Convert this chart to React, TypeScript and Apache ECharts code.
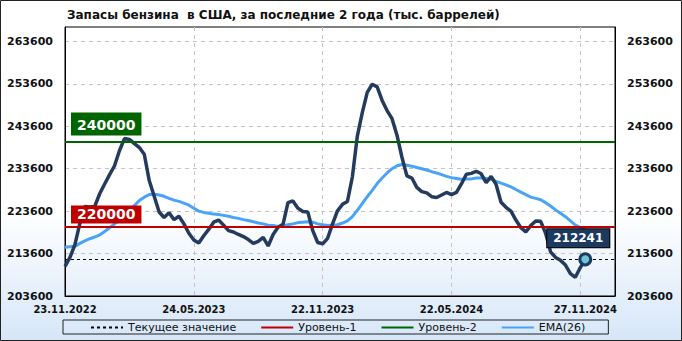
import React, { useEffect, useRef } from 'react';
import * as echarts from 'echarts';

const titleText = 'Запасы бензина  в США, за последние 2 года (тыс. баррелей)';
const startDate = '2022-11-23';
const slotCount = 112;

const gasoline = [
  210600, 212700, 215700, 220700, 224700, 224600, 224700, 227700, 230000, 232200,
  234300, 237900, 240700, 240500, 239500, 238600, 237000, 230800, 227100, 223400,
  222100, 223200, 221600, 222400, 220600, 218400, 216800, 216100, 217800, 219300,
  221000, 221500, 220300, 219000, 218700, 218100, 217600, 216900, 216000, 216500,
  217400, 215400, 218100, 219800, 220500, 225600, 226000, 224300, 223500, 223400,
  219000, 216200, 215900, 217200, 220600, 223700, 225200, 225900, 231700, 241300,
  246800, 251600, 253500, 252900, 249700, 247300, 245400, 241500, 236300, 231900,
  231400, 229200, 228200, 227900, 227000, 226800, 227400, 228000, 227500, 228000,
  230000, 232300, 232500, 233000, 232400, 230300, 231800, 229900, 225700, 224500,
  223600, 221500, 219700, 218700, 220200, 221300, 221200, 218400, 214000, 212700,
  212000, 210900, 208900, 208000, 210300, 212241,
];

const ema26 = [
  215100, 215200, 215300, 216000, 216600, 217100, 217500, 218000, 218800, 219700,
  220600, 221600, 222700, 223700, 224900, 226100, 226900, 227500, 227600, 227400,
  227100, 226600, 226200, 225900, 225500, 225000, 224300, 223600, 223300, 223100,
  222900, 222800, 222600, 222400, 222100, 221900, 221600, 221400, 221100, 220800,
  220600, 220300, 220200, 220000, 220100, 220400, 220600, 220900, 221000, 221100,
  221000, 220600, 220400, 220200, 220300, 220400, 220800, 221300, 222300, 223800,
  225400, 227000, 228500, 230100, 231400, 232600, 233600, 234300, 234600, 234400,
  234200, 233900, 233600, 233300, 232900, 232600, 232200, 231800, 231500, 231300,
  231100, 231200, 231200, 231400, 231400, 231300, 231100, 230600, 230200, 229800,
  229300, 228700, 228100, 227500, 226900, 226600, 226300, 225600, 224800, 223900,
  223100, 222300, 221300, 220300, 219700, 219300,
];

const level1 = 220000;
const level2 = 240000;
const currentValue = 212241;
const yTicks = [203600, 213600, 223600, 233600, 243600, 253600, 263600];
const yMin = 203600;
const yMax = 267000;
const xLabelIdx = [0, 26, 52, 78, 105];
const xGridIdx = [0, 26, 52, 78, 104];
const legendNames = ['Текущее значение', 'Уровень-1', 'Уровень-2', 'EMA(26)'];

function buildDates(): string[] {
  const out: string[] = [];
  const d0 = new Date(startDate + 'T12:00:00Z');
  for (let i = 0; i < slotCount; i++) {
    const d = new Date(d0.getTime() + i * 7 * 86400000);
    const dd = String(d.getUTCDate()).padStart(2, '0');
    const mm = String(d.getUTCMonth() + 1).padStart(2, '0');
    out.push(dd + '.' + mm + '.' + d.getUTCFullYear());
  }
  return out;
}

const FONT = 'DejaVu Sans';

export default function App() {
  const ref = useRef<HTMLDivElement>(null);
  useEffect(() => {
    if (!ref.current) return;
    const chart = echarts.init(ref.current, null, { renderer: 'svg' });
    const dates = buildDates();
    const last = gasoline.length - 1;
    const mainData = gasoline.map((v, i) =>
      i === last
        ? {
            value: v,
            symbol: 'circle',
            symbolSize: 11,
            itemStyle: { color: '#6cc3dc', borderColor: '#1f3a5f', borderWidth: 3 },
            label: {
              show: true,
              position: 'top',
              distance: 5,
              offset: [-7, 0],
              formatter: String(v),
              backgroundColor: '#1c3a5f',
              borderColor: '#000',
              borderWidth: 1,
              color: '#fff',
              fontWeight: 'bold',
              fontSize: 12,
              fontFamily: FONT,
              padding: [3, 6],
            },
          }
        : v
    );
    const levelLabel = (color: string, pad: number[], dist: number[]) => ({
      show: true,
      position: 'insideStartTop',
      distance: dist,
      formatter: '{c}',
      backgroundColor: color,
      color: '#fff',
      fontWeight: 'bold',
      fontSize: 14,
      fontFamily: FONT,
      lineHeight: 16,
      padding: pad,
    });
    const yLabel = {
      customValues: yTicks,
      margin: 12,
      fontFamily: FONT,
      fontSize: 11,
      fontWeight: 'bold',
      color: '#111',
      formatter: (v: number) => String(v),
    };
    const yAxisBase = {
      type: 'value',
      min: yMin,
      max: yMax,
      axisTick: { show: false, customValues: yTicks },
      axisLine: { show: true, lineStyle: { color: '#000', width: 1 } },
    };
    chart.setOption({
      animation: false,
      backgroundColor: new echarts.graphic.LinearGradient(0, 0, 0, 1, [
        { offset: 0, color: '#ffffff' },
        { offset: 0.62, color: '#ffffff' },
        { offset: 1, color: '#d6e6f8' },
      ]),
      title: {
        text: titleText,
        left: 62,
        top: 4,
        textStyle: { fontFamily: FONT, fontSize: 12, fontWeight: 'bold', color: '#111' },
      },
      graphic: [
        {
          type: 'rect',
          shape: { x: 0.5, y: 0.5, width: 681, height: 340 },
          style: { fill: 'none', stroke: '#222', lineWidth: 1 },
          silent: true,
        },
      ],
      legend: {
        data: legendNames,
        left: 63,
        top: 320,
        itemGap: 24,
        itemWidth: 32,
        itemHeight: 10,
        padding: [2, 23, 1, 27],
        borderColor: '#222',
        borderWidth: 1,
        itemStyle: { opacity: 0 },
        textStyle: { fontFamily: FONT, fontSize: 11, color: '#111' },
      },
      grid: {
        left: 65,
        right: 67,
        top: 27,
        bottom: 45,
        show: true,
        borderColor: '#000',
        borderWidth: 1,
        backgroundColor: 'transparent',
      },
      xAxis: {
        type: 'category',
        boundaryGap: false,
        data: dates,
        axisLine: { show: true, lineStyle: { color: '#000' } },
        axisTick: { show: false },
        axisLabel: {
          interval: (idx: number) => xLabelIdx.includes(idx),
          margin: 8,
          fontFamily: FONT,
          fontSize: 10,
          fontWeight: 'bold',
          color: '#111',
          showMinLabel: true,
        },
        splitLine: {
          show: true,
          interval: (idx: number) => xGridIdx.includes(idx),
          lineStyle: { color: '#c4c4c4', type: [4, 4], width: 1 },
        },
      },
      yAxis: [
        {
          ...yAxisBase,
          position: 'left',
          axisLabel: yLabel,
          splitLine: { show: true, lineStyle: { color: '#c4c4c4', type: [4, 4], width: 1 } },
        },
        {
          ...yAxisBase,
          position: 'right',
          axisLabel: yLabel,
          splitLine: { show: false },
        },
      ],
      series: [
        {
          name: 'Текущее значение',
          type: 'line',
          data: [],
          symbol: 'none',
          color: '#000',
          lineStyle: { color: '#000', width: 1, type: [3, 3] },
          z: 3,
          markLine: {
            silent: true,
            z: 3,
            symbol: ['none', 'none'],
            label: { show: false },
            lineStyle: { color: '#000', width: 1, type: [3, 3] },
            data: [{ yAxis: currentValue }],
          },
        },
        {
          name: 'Уровень-1',
          type: 'line',
          data: [],
          symbol: 'none',
          color: '#c00000',
          lineStyle: { color: '#c00000', width: 2 },
          z: 10,
          markLine: {
            silent: true,
            z: 10,
            symbol: ['none', 'none'],
            label: levelLabel('#c00000', [1, 6, 1, 6], [6, 3]),
            lineStyle: { color: '#c00000', width: 2, type: 'solid' },
            data: [{ yAxis: level1 }],
          },
        },
        {
          name: 'Уровень-2',
          type: 'line',
          data: [],
          symbol: 'none',
          color: '#006400',
          lineStyle: { color: '#006400', width: 2 },
          z: 10,
          markLine: {
            silent: true,
            z: 10,
            symbol: ['none', 'none'],
            label: levelLabel('#006400', [4, 6, 3, 6], [6, 6]),
            lineStyle: { color: '#006400', width: 2, type: 'solid' },
            data: [{ yAxis: level2 }],
          },
        },
        {
          name: 'EMA(26)',
          type: 'line',
          data: ema26,
          symbol: 'none',
          color: '#4aa3f5',
          lineStyle: { color: '#4aa3f5', width: 3 },
          z: 2,
        },
        {
          name: 'Запасы',
          type: 'line',
          data: mainData,
          symbol: 'none',
          showSymbol: true,
          color: '#243b5e',
          lineStyle: { color: '#243b5e', width: 3.5 },
          z: 4,
        },
      ],
    });
    return () => chart.dispose();
  }, []);
  return (
    <div
      ref={ref}
      style={{ position: 'absolute', left: 0, top: 0, width: 682, height: 341 }}
    />
  );
}
